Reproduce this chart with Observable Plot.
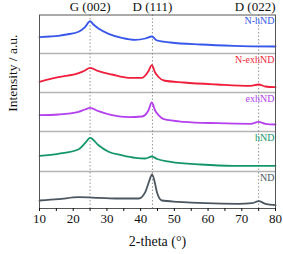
<!DOCTYPE html>
<html>
<head>
<meta charset="utf-8">
<script src="https://cdn.jsdelivr.net/npm/d3@7"></script>
<script src="https://cdn.jsdelivr.net/npm/@observablehq/plot@0.6"></script>
<style>
  html, body { margin: 0; padding: 0; background: #fff; }
  #chart svg, #chart svg text { font-family: "Liberation Serif", "Times New Roman", serif !important; }
</style>
</head>
<body>
<div id="chart"></div>
<script>
// ---- data ----
const seriesNames = ["N-hND", "N-exhND", "exhND", "hND", "ND"];
const seriesOffsets = [155, 116, 77, 37, 0];
const seriesColors = ["#3657ea", "#ef1f3c", "#b440ee", "#15966a", "#4b5660"];
const separators = [37, 77, 116, 155];
const peakPositions = [25, 43.5, 75];
const peakLabels = ["G (002)", "D (111)", "D (022)"];
const xTicks = [10, 15, 20, 25, 30, 35, 40, 45, 50, 55, 60, 65, 70, 75, 80];

const nhndX = [10, 13, 15.6, 18, 21.6, 23.5, 25, 26, 27.5, 30.5, 34.4, 38.4, 41.4, 43.3, 44.9, 48.9, 57.8, 67.6, 80];
const nhndY = [16.3, 17, 17.7, 19, 21.7, 26.3, 32.3, 29, 25, 19.7, 15.7, 13.7, 15, 17, 13, 11, 9, 7.7, 7];

const nexhndX = [10, 15.6, 21.6, 23.5, 25, 27.5, 31.5, 36.4, 40.4, 42.3, 43.3, 44.3, 45.3, 46.9, 52.8, 62.7, 72.6, 75, 77, 80];
const nexhndY = [10.7, 15.3, 19.3, 22, 24.7, 21.3, 18, 14.7, 14.7, 21.3, 27.3, 20, 15.5, 12, 10, 8, 6.7, 8, 6, 5.3];

const exhndX = [10, 15.6, 21.6, 23.5, 25, 27.5, 31.5, 36.4, 40.4, 42.3, 43.3, 44.3, 45.3, 46.9, 52.8, 62.7, 72.6, 75, 77, 80];
const exhndY = [16.3, 17, 19.7, 22, 23.7, 20.3, 16.3, 14.3, 15, 21, 29, 21, 16.3, 12.3, 9.7, 8.3, 7.7, 9.7, 7.7, 7];

const hndX = [10, 15.6, 21.6, 23.5, 25, 27.5, 30.5, 34.4, 38.4, 41.4, 43.3, 44.9, 48.9, 57.8, 67.6, 80];
const hndY = [15.7, 17.7, 22.3, 28.3, 33.7, 26.3, 19.7, 16.3, 13.7, 13, 15, 12.5, 9.7, 7, 5.7, 5.7];

const ndX = [10, 15.6, 21.6, 27.5, 33.4, 39.4, 41.4, 42.5, 43.4, 44.2, 44.8, 46.3, 51.2, 59.2, 69, 73, 75, 77, 80];
const ndY = [8, 9.3, 11.3, 10.7, 10, 10, 16.7, 27, 34, 26, 16.7, 8, 6.7, 5.3, 4.7, 5.3, 7.3, 4.7, 3.3];

const seriesX = [nhndX, nexhndX, exhndX, hndX, ndX];
const seriesY = [nhndY, nexhndY, exhndY, hndY, ndY];

// ---- table ----
const rows = [];
seriesNames.forEach((name, i) => {
  seriesX[i].forEach((x, j) => rows.push({series: name, x, y: seriesOffsets[i] + seriesY[i][j]}));
});
const yTop = 193.5;
const labelRows = seriesNames.map((name, i) => ({series: name, y: i === 0 ? yTop : seriesOffsets[i - 1]}));
const peakRows = peakLabels.map((label, i) => ({label, x: peakPositions[i]}));
const serif = "'Liberation Serif', 'Times New Roman', serif";

const chart = Plot.plot({
  width: 283,
  height: 254,
  marginLeft: 39,
  marginRight: 8,
  marginTop: 14.5,
  marginBottom: 46,
  style: `font-family: ${serif}; background: #fff;`,
  x: {domain: [10, 80]},
  y: {domain: [0, yTop], axis: null},
  color: {domain: seriesNames, range: seriesColors},
  marks: [
    Plot.ruleY(separators, {stroke: "#b4b4b4", strokeWidth: 1.5}),
    Plot.ruleX(peakPositions, {stroke: "#7a7a7a", strokeWidth: 0.8, strokeDasharray: "1.5,2"}),
    Plot.line(rows, {x: "x", y: "y", z: "series", stroke: "series", strokeWidth: 1.8, curve: "monotone-x"}),
    Plot.text(labelRows, {x: 80, y: "y", text: "series", fill: "series", textAnchor: "end", dx: -1, dy: 6, fontSize: 10, fontFamily: serif}),
    Plot.text(peakRows.slice(0, 2), {x: "x", y: yTop, text: "label", textAnchor: "middle", dy: -8, fontSize: 13, fill: "#111", fontFamily: serif}),
    Plot.text(peakRows.slice(2), {x: 80, y: yTop, text: "label", textAnchor: "end", dy: -8, fontSize: 13, fill: "#111", fontFamily: serif}),
    Plot.frame({stroke: "#555", strokeWidth: 1}),
    Plot.axisX({ticks: xTicks, tickSize: 3, tickFormat: d => d % 10 === 0 ? d : "", fontSize: 13, tickPadding: 2, label: null, color: "#111", fontFamily: serif}),
    Plot.text(["2-theta (°)"], {frameAnchor: "bottom", dy: 37, fontSize: 14, fill: "#111", fontFamily: serif}),
    Plot.text(["Intensity / a.u."], {frameAnchor: "left", rotate: -90, dx: -27, fontSize: 13.5, fill: "#111", fontFamily: serif})
  ]
});
document.getElementById("chart").appendChild(chart);
</script>
</body>
</html>
